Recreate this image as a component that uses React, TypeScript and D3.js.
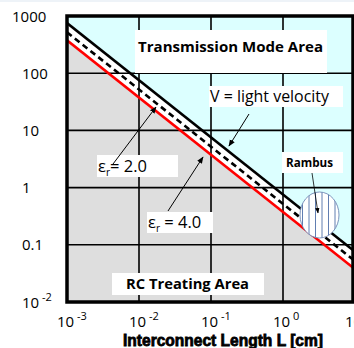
import React from "react";
import * as d3 from "d3";

const lengthEnds = [0.001, 10];
const lightVelocity = [755, 0.0755];
const epsilon2 = [520, 0.052];
const epsilon4 = [375, 0.0375];
const xTicks = [0.001, 0.01, 0.1, 1, 10];
const xTickExp = ["-3", "-2", "-1", "0", "1"];
const yTicks = [1000, 100, 10, 1, 0.1, 0.01];
const yTickLabels = ["1000", "100", "10", "1", "0.1", "10"];
const yTickSup = ["", "", "", "", "", "-2"];
const xTitle = "Interconnect Length L [cm]";

const W = 354, H = 348;
const L = 67, R = 353, T = 16, B = 302;

export default function App() {
  const x = d3.scaleLog().domain([0.001, 10]).range([67, 355]);
  const y = d3.scaleLog().domain([0.01, 1000]).range([B, T]);
  const pts = (vals: number[]) => lengthEnds.map((l, i) => [x(l), y(vals[i])] as [number, number]);
  const line = d3.line();
  const black = pts(lightVelocity);
  const red = pts(epsilon4);
  const dashed = pts(epsilon2);
  const cyanPoly = [[L - 5, T - 5], [R + 5, T - 5], black[1], black[0]] as [number, number][];
  const bandPoly = [black[0], black[1], red[1], red[0]] as [number, number][];
  const font = "'Open Sans', sans-serif";
  const hatch: number[] = d3.range(296, 344, 6.5);
  return (
    <svg width={W} height={H} style={{ position: "absolute", left: 0, top: 0, background: "#fff" }}>
      <defs>
        <clipPath id="plot"><rect x={L} y={T} width={R - L} height={B - T} /></clipPath>
        <clipPath id="ell"><ellipse cx={319.5} cy={215} rx={19.5} ry={23} /></clipPath>
        <marker id="ah" viewBox="0 0 10 10" refX="9" refY="5" markerWidth="7" markerHeight="7" orient="auto">
          <path d="M0,1 L10,5 L0,9 z" fill="#000" />
        </marker>
      </defs>
      <rect x={0} y={0} width={W} height={2} fill="#eef3f8" />
      <g clipPath="url(#plot)">
        <rect x={L} y={T} width={R - L} height={B - T} fill="#dedede" />
        <path d={d3.line()(cyanPoly) + "Z"} fill="#dcffff" />
        <path d={d3.line()(bandPoly) + "Z"} fill="#ffffff" />
        {xTicks.slice(1, 4).map((t) => (
          <line key={"gx" + t} x1={x(t)} x2={x(t)} y1={T} y2={B} stroke="#000" strokeWidth={1.6} />
        ))}
        {yTicks.slice(1, 5).map((t) => (
          <line key={"gy" + t} x1={L} x2={R} y1={y(t)} y2={y(t)} stroke="#000" strokeWidth={1.6} />
        ))}
        <path d={line(black) || ""} stroke="#000" strokeWidth={2.6} fill="none" />
        <path d={line(dashed) || ""} stroke="#000" strokeWidth={2.6} fill="none" strokeDasharray="6,4" />
        <path d={line(red) || ""} stroke="#ff0000" strokeWidth={2.6} fill="none" />
        <ellipse cx={319.5} cy={215} rx={19.5} ry={23} fill="#fff" />
        <g clipPath="url(#ell)">
          {hatch.map((hx) => (
            <line key={hx} x1={hx} x2={hx} y1={190} y2={240} stroke="#4f6fa8" strokeWidth={0.9} />
          ))}
        </g>
        <ellipse cx={319.5} cy={215} rx={19.5} ry={23} fill="none" stroke="#6f87b3" strokeWidth={0.9} />
        <rect x={135} y={30} width={192} height={43} fill="#fff" />
        <text x={138} y={52} fontFamily={font} fontWeight="bold" fontSize={14.5} textLength={185} lengthAdjust="spacingAndGlyphs">Transmission Mode Area</text>
        <rect x={209} y={86} width={134} height={21} fill="#fff" />
        <text x={210} y={102} fontFamily={font} fontSize={15.5} textLength={119} lengthAdjust="spacingAndGlyphs">V = light velocity</text>
        <rect x={97} y={155} width={81} height={22} fill="#fff" />
        <text x={98} y={172} fontFamily={font} fontSize={16.5}>ε<tspan fontSize={10} dy={4}>r</tspan><tspan dy={-4}>= 2.0</tspan></text>
        <rect x={147} y={212} width={66} height={21} fill="#fff" />
        <text x={148} y={228} fontFamily={font} fontSize={16.5}>ε<tspan fontSize={10} dy={4}>r</tspan><tspan dy={-4}> = 4.0</tspan></text>
        <rect x={282} y={152} width={61} height={21} fill="#fff" />
        <text x={286} y={167} fontFamily={font} fontWeight="bold" fontSize={11.5} textLength={47} lengthAdjust="spacingAndGlyphs">Rambus</text>
        <rect x={112} y={273} width={152} height={22} fill="#fff" />
        <text x={126} y={289} fontFamily={font} fontWeight="bold" fontSize={14.5} textLength={123} lengthAdjust="spacingAndGlyphs">RC Treating Area</text>
        <line x1={249} y1={114} x2={229} y2={146} stroke="#000" strokeWidth={1} markerEnd="url(#ah)" />
        <line x1={113} y1={164} x2={156} y2={107} stroke="#000" strokeWidth={1} markerEnd="url(#ah)" />
        <line x1={168} y1={211} x2={203} y2={157} stroke="#000" strokeWidth={1} markerEnd="url(#ah)" />
        <line x1={312} y1={173} x2={318} y2={213} stroke="#000" strokeWidth={0.8} markerEnd="url(#ah)" />
      </g>
      <rect x={L} y={T} width={R - L} height={B - T} fill="none" stroke="#000" strokeWidth={3.5} />
      {yTicks.map((t, i) => (
        <text key={"yl" + t} x={yTickLabels[i].length === 4 ? 12 : 22} y={y(t) + 5.5} fontFamily={font} fontSize={15} fill="#000">
          {yTickLabels[i]}
          {yTickSup[i] && <tspan fontSize={11} dy={-7}>{" " + yTickSup[i]}</tspan>}
        </text>
      ))}
      {xTicks.map((t, i) => (
        <text key={"xl" + t} x={x(t) - 10} y={327} fontFamily={font} fontSize={15} fill="#000">
          10<tspan fontSize={11} dy={-7}>{" " + xTickExp[i]}</tspan>
        </text>
      ))}
      <text x={123} y={346} fontFamily="'Liberation Sans Narrow', 'Liberation Sans', sans-serif" fontWeight="bold" fontSize={16} textLength={200} lengthAdjust="spacingAndGlyphs" stroke="#000" strokeWidth={0.8}>{xTitle}</text>
    </svg>
  );
}
